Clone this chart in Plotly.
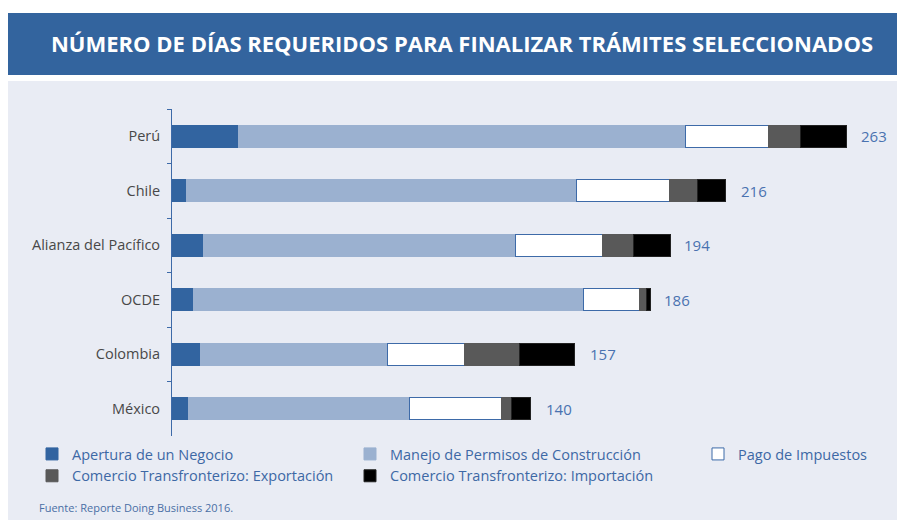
import plotly.graph_objects as go

# datos (días) - Doing Business 2016
paises = ["Perú", "Chile", "Alianza del Pacífico", "OCDE", "Colombia", "México"]
apertura = [26, 5.5, 12.4, 8.3, 11, 6.3]
construccion = [174.3, 152.2, 121.6, 152.1, 73.2, 86.5]
impuestos = [32.5, 36.4, 33.7, 22.1, 29.9, 35.8]
exportacion = [12.2, 10.8, 12.1, 2.5, 21.5, 3.6]
importacion = [17.9, 11.0, 14.5, 1.5, 21.4, 7.7]
totales = [263, 216, 194, 186, 157, 140]

series = [
    ("Apertura de un Negocio", apertura, "#3264a0", "#3264a0", "legend"),
    ("Manejo de Permisos de Construcción", construccion, "#9bb1d0", "#9bb1d0", "legend2"),
    ("Pago de Impuestos", impuestos, "#ffffff", "#3d6aa8", "legend3"),
    ("Comercio Transfronterizo: Exportación", exportacion, "#595959", "#595959", "legend"),
    ("Comercio Transfronterizo: Importación", importacion, "#000000", "#222222", "legend2"),
]

azul = "#3d68a5"

fig = go.Figure()

for nombre, valores, color, borde, leg in series:
    fig.add_trace(go.Bar(
        y=paises, x=valores, name=nombre, orientation="h",
        marker=dict(color=color, line=dict(color=borde, width=1)),
        width=0.4, legend=leg, hoverinfo="x+name",
    ))

# totales a la derecha de cada barra
for p, t in zip(paises, totales):
    fig.add_annotation(x=t, y=p, text=str(t), showarrow=False,
                       xanchor="left", xshift=13,
                       font=dict(size=15, color="#4a72b0", family="Open Sans"))

# la pagina deja 8px de margen, se descuentan aqui
OFF = 8
W, L, T, H = 718, 172 - OFF, 109 - OFF, 327
def px(x):
    return (x - OFF - L) / W
def py(y):
    return (T + H - (y - OFF)) / H

# fondo, banda del titulo
fig.add_shape(type="rect", xref="paper", yref="paper", layer="below",
              x0=px(0), x1=px(930), y0=py(540), y1=py(81),
              fillcolor="#e9ecf4", line_width=0)
fig.add_shape(type="rect", xref="paper", yref="paper", layer="below",
              x0=px(0), x1=px(930), y0=py(75), y1=py(13),
              fillcolor="#33649e", line_width=0)

fig.add_annotation(xref="paper", yref="paper", x=px(37), y=py(507),
                   xanchor="left", yanchor="middle", showarrow=False,
                   text="Fuente: Reporte Doing Business 2016.",
                   font=dict(size=11, color="#4a6fa5", family="Open Sans"))

leg_style = dict(orientation="v", yanchor="top", xanchor="left",
                 bgcolor="rgba(0,0,0,0)", traceorder="normal",
                 font=dict(size=14.5, color=azul, family="Open Sans"))

fig.update_layout(
    width=905, height=520,
    margin=dict(l=L, r=905 - L - W, t=T, b=520 - T - H),
    barmode="stack",
    paper_bgcolor="white",
    plot_bgcolor="rgba(0,0,0,0)",
    title=dict(text="<b>NÚMERO DE DÍAS REQUERIDOS PARA FINALIZAR TRÁMITES SELECCIONADOS</b>",
               x=(462 - OFF) / 905, y=1 - (44 - OFF) / 520, xanchor="center", yanchor="middle",
               font=dict(size=22, color="white", family="Open Sans")),
    xaxis=dict(range=[0, 280], visible=False),
    yaxis=dict(autorange="reversed", showline=True, linecolor="#3d6aa8", linewidth=1,
               ticks="outside", tickson="boundaries", ticklen=4, tickcolor="#3d6aa8",
               ticklabelstandoff=8, showgrid=False,
               tickfont=dict(size=14.5, color="#484848", family="Open Sans")),
    legend=dict(x=px(32), y=py(438), **leg_style),
    legend2=dict(x=px(350), y=py(438), **leg_style),
    legend3=dict(x=px(698), y=py(438), **leg_style),
    showlegend=True,
)

fig.write_html("out.html")
